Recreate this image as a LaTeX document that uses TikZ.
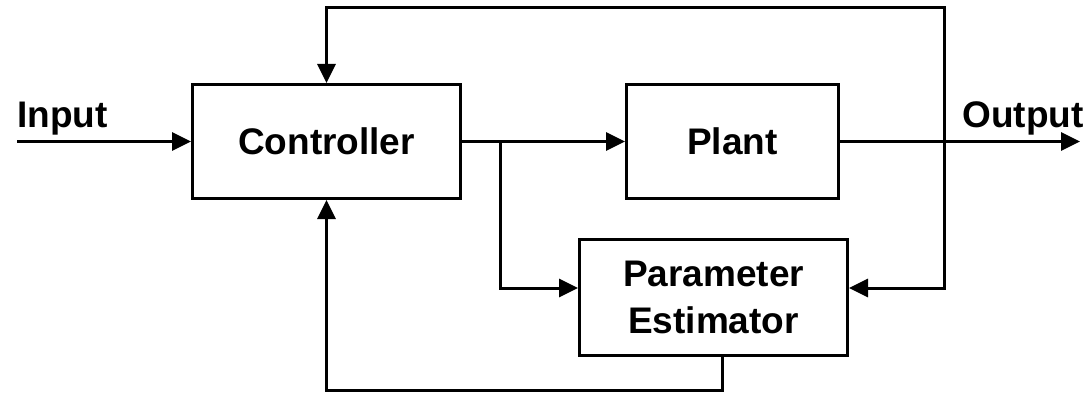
\documentclass[tikz,border=0pt]{standalone}
\usepackage{fontspec}
\setmainfont{Liberation Sans}
\usetikzlibrary{arrows.meta,calc}
\begin{document}
\begin{tikzpicture}[x=1pt,y=1pt,
  block/.style={draw, line width=3pt, inner sep=0pt, align=center,
    font=\fontsize{37}{47}\selectfont\bfseries},
  sig/.style={line width=3pt, -{Triangle[length=19pt,width=18pt]}},
  lbl/.style={inner sep=0pt, font=\fontsize{37}{42}\selectfont\bfseries}]
  \useasboundingbox (0,0) rectangle (1089,394);

  % blocks
  \node[block, minimum width=268pt, minimum height=114pt] (ctrl) at (326.5,252.5) {Controller};
  \node[block, minimum width=212pt, minimum height=114pt] (plant) at (732.5,252.5) {Plant};
  \node[block, minimum width=268pt, minimum height=116pt] (est) at (713.5,96.5) {Parameter\\Estimator};

  % helper points
  \coordinate (in) at (17,252.5);
  \coordinate (out) at (1080,252.5);
  \coordinate (split) at (500,252.5);
  \coordinate (tap) at (944,252.5);
  \coordinate (top) at (944,386);
  \coordinate (estin) at ($(est.west)+(0,9.5)$);
  \coordinate (estfb) at ($(est.east)+(0,9.5)$);
  \coordinate (estout) at ($(est.south)+(8.5,0)$);
  \coordinate (bottom) at (722,4);

  % signal paths
  \draw[sig] (in) -- (ctrl.west);
  \draw[sig] (ctrl.east) -- (plant.west);
  \draw[sig] (plant.east) -- (out);
  \draw[sig] (split) |- (estin);
  \draw[sig] (tap) -- (top) -| (ctrl.north);
  \draw[sig] (tap) |- (estfb);
  \draw[sig] (estout) -- (bottom) -| (ctrl.south);

  % labels
  \node[lbl, anchor=base west] (inlbl) at (17,266) {Input};
  \node[lbl, anchor=base east] (outlbl) at (1084,266) {Output};
\end{tikzpicture}
\end{document}
